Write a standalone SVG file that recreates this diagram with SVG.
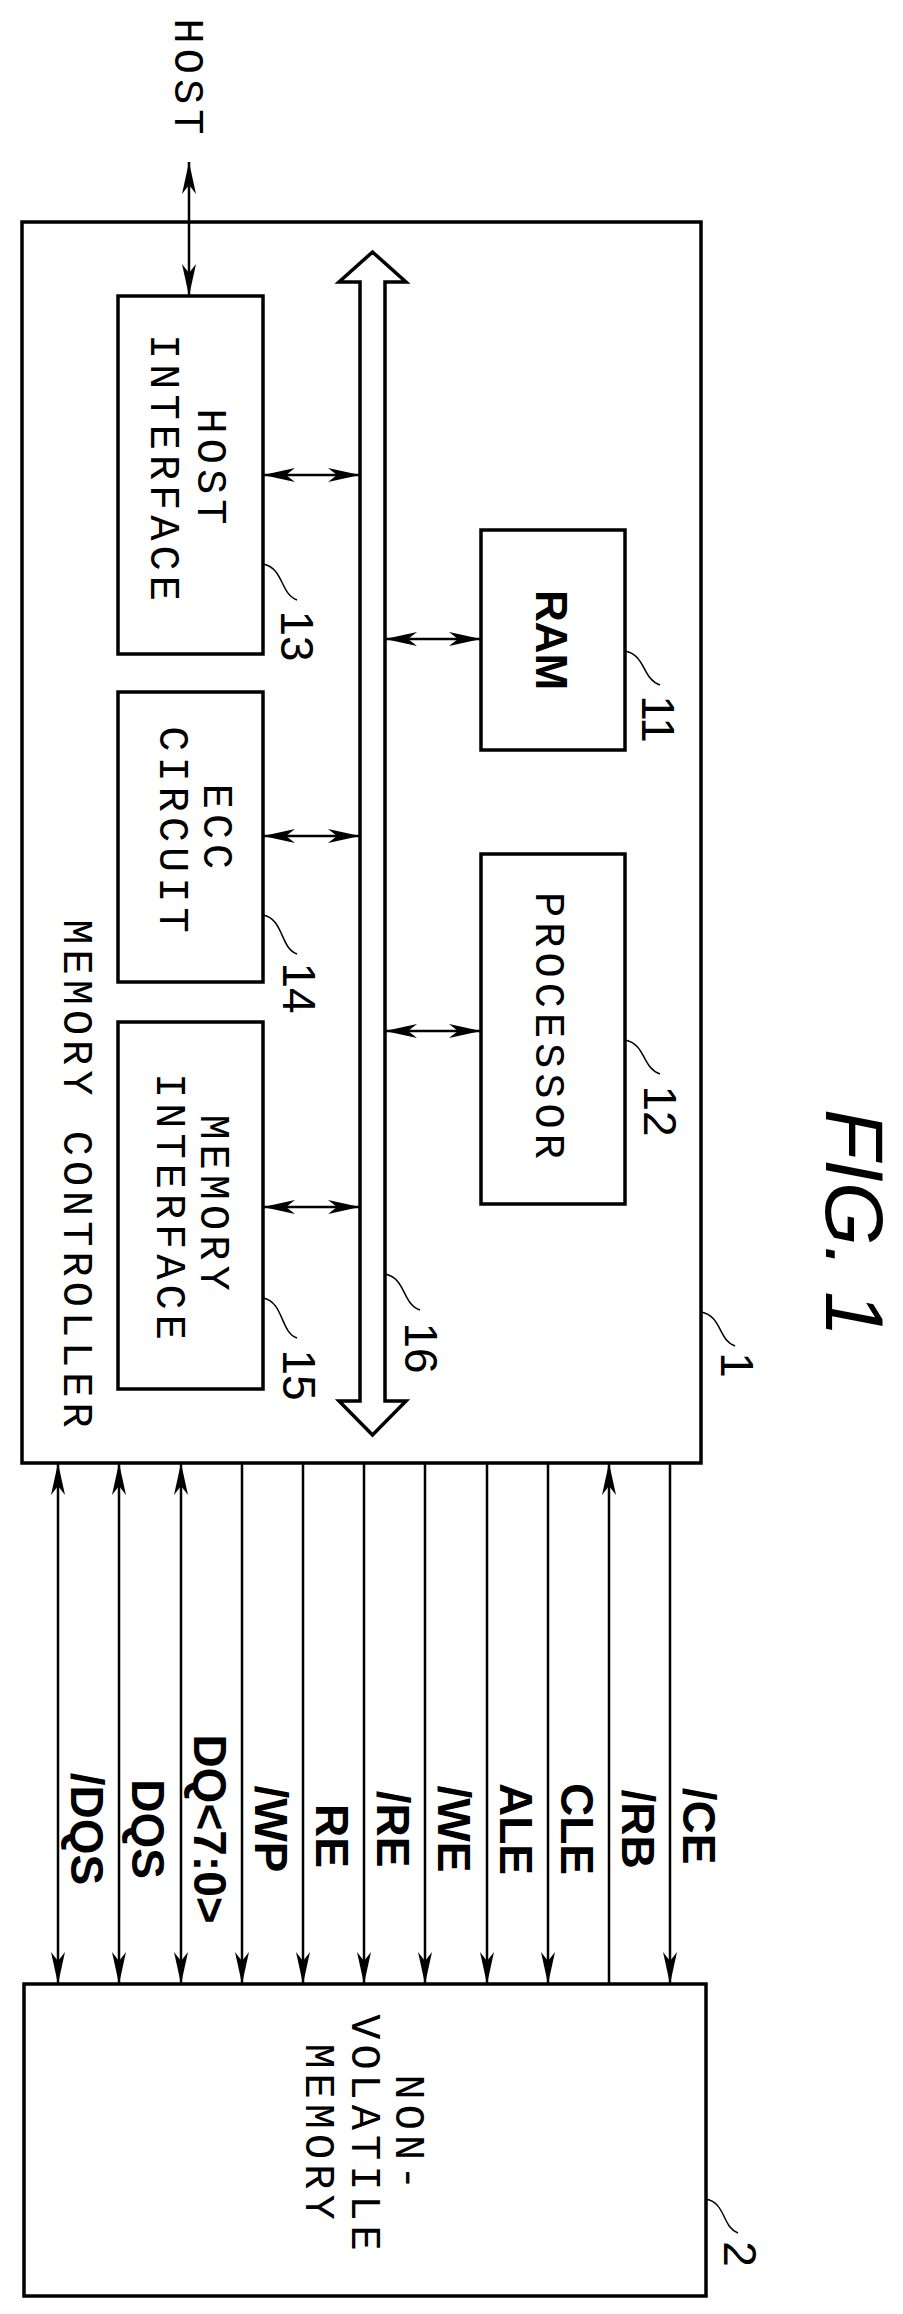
<svg xmlns="http://www.w3.org/2000/svg" width="903" height="2314" viewBox="0 0 903 2314">
<style>
.box{fill:none;stroke:#000;stroke-width:3.5}
.ln{fill:none;stroke:#000;stroke-width:2.5}
.ld{fill:none;stroke:#000;stroke-width:1.5}
.mono{font-family:"Liberation Mono","DejaVu Sans Mono",monospace;font-size:42px;letter-spacing:5px;text-anchor:middle}
.num{font-family:"Liberation Sans",Arial,sans-serif;font-size:46px;text-anchor:middle}
.sig{font-family:"Liberation Sans",Arial,sans-serif;font-weight:bold;font-size:46px;text-anchor:middle}
</style>
<defs>
<marker id="ah" markerUnits="userSpaceOnUse" markerWidth="34" markerHeight="16" refX="32" refY="7" orient="auto-start-reverse" viewBox="0 0 34 14">
<path d="M0,0 L32,7 L0,14 L9,7 Z" fill="#000"/>
</marker>
</defs>
<text class="mono" transform="translate(175,79) rotate(90)">HOST</text>
<g id="controller">
<rect class="box" x="22" y="222" width="679" height="1241"/>
<text class="mono" transform="translate(64,1176) rotate(90)">MEMORY CONTROLLER</text>
<path class="ld" d="M701,1312 C722,1316 718,1340 735,1346"/>
<text class="num" transform="translate(721,1365) rotate(90)">1</text>
</g>
<g id="hostif">
<rect class="box" x="118" y="296" width="145" height="358"/>
<text class="mono" transform="translate(198,469) rotate(90)">HOST</text>
<text class="mono" transform="translate(151,470) rotate(90)">INTERFACE</text>
<path class="ld" d="M263,564 C284,568 280,594 297,600"/>
<text class="num" transform="translate(281,636) rotate(90)">13</text>
</g>
<g id="ecc">
<rect class="box" x="118" y="692" width="145" height="290"/>
<text class="mono" transform="translate(204,829) rotate(90)">ECC</text>
<text class="mono" transform="translate(160,832) rotate(90)">CIRCUIT</text>
<path class="ld" d="M263,915 C284,919 280,948 297,954"/>
<text class="num" transform="translate(283,988) rotate(90)">14</text>
</g>
<g id="memif">
<rect class="box" x="118" y="1022" width="145" height="367"/>
<text class="mono" transform="translate(201,1205) rotate(90)">MEMORY</text>
<text class="mono" transform="translate(157,1209) rotate(90)">INTERFACE</text>
<path class="ld" d="M263,1298 C284,1302 280,1332 297,1338"/>
<text class="num" transform="translate(283,1375) rotate(90)">15</text>
</g>
<g id="ram">
<rect class="box" x="481" y="530" width="144" height="220"/>
<text transform="translate(536,640) rotate(90)" style="font-family:'Liberation Sans',Arial,sans-serif;font-weight:bold;font-size:44px;text-anchor:middle">RAM</text>
<path class="ld" d="M625,651 C646,655 642,679 660,685"/>
<text class="num" transform="translate(642,719) rotate(90)">11</text>
</g>
<g id="processor">
<rect class="box" x="481" y="854" width="144" height="350"/>
<text class="mono" transform="translate(536,1028) rotate(90)">PROCESSOR</text>
<path class="ld" d="M625,1040 C646,1044 642,1068 660,1074"/>
<text class="num" transform="translate(644,1111) rotate(90)">12</text>
</g>
<g id="bus">
<polygon points="372.5,252 406,282 385,282 385,1401 406,1401 372.5,1435 339,1401 360,1401 360,282 339,282" fill="#fff" stroke="#000" stroke-width="3.5" stroke-linejoin="miter"/>
<path class="ld" d="M385,1274 C406,1278 402,1304 420,1310"/>
<text class="num" transform="translate(405,1348) rotate(90)">16</text>
</g>
<g id="nvm">
<rect class="box" x="24" y="1984" width="682" height="312"/>
<text class="mono" transform="translate(396,2135) rotate(90)">NON-</text>
<text class="mono" transform="translate(352,2135) rotate(90)">VOLATILE</text>
<text class="mono" transform="translate(306,2134) rotate(90)">MEMORY</text>
<path class="ld" d="M706,2199 C726,2203 722,2227 738,2233"/>
<text class="num" transform="translate(724,2254) rotate(90)">2</text>
</g>
<text transform="translate(826,1223) rotate(90)" style="font-family:'Liberation Sans',Arial,sans-serif;font-style:italic;font-size:82px;text-anchor:middle">FIG. 1</text>
<g id="connectors">
<line class="ln" x1="189" y1="162" x2="189" y2="296" marker-start="url(#ah)" marker-end="url(#ah)"/>
<line class="ln" x1="263" y1="475" x2="360" y2="475" marker-start="url(#ah)" marker-end="url(#ah)"/>
<line class="ln" x1="263" y1="836" x2="360" y2="836" marker-start="url(#ah)" marker-end="url(#ah)"/>
<line class="ln" x1="263" y1="1207" x2="360" y2="1207" marker-start="url(#ah)" marker-end="url(#ah)"/>
<line class="ln" x1="385" y1="639" x2="481" y2="639" marker-start="url(#ah)" marker-end="url(#ah)"/>
<line class="ln" x1="385" y1="1031" x2="481" y2="1031" marker-start="url(#ah)" marker-end="url(#ah)"/>
<line class="ln" x1="58" y1="1463" x2="58" y2="1984" marker-start="url(#ah)" marker-end="url(#ah)"/>
<line class="ln" x1="119" y1="1463" x2="119" y2="1984" marker-start="url(#ah)" marker-end="url(#ah)"/>
<line class="ln" x1="181" y1="1463" x2="181" y2="1984" marker-start="url(#ah)" marker-end="url(#ah)"/>
<line class="ln" x1="242" y1="1463" x2="242" y2="1984" marker-end="url(#ah)"/>
<line class="ln" x1="303" y1="1463" x2="303" y2="1984" marker-end="url(#ah)"/>
<line class="ln" x1="364" y1="1463" x2="364" y2="1984" marker-end="url(#ah)"/>
<line class="ln" x1="425" y1="1463" x2="425" y2="1984" marker-end="url(#ah)"/>
<line class="ln" x1="487" y1="1463" x2="487" y2="1984" marker-end="url(#ah)"/>
<line class="ln" x1="548" y1="1463" x2="548" y2="1984" marker-end="url(#ah)"/>
<line class="ln" x1="609" y1="1984" x2="609" y2="1463" marker-end="url(#ah)"/>
<line class="ln" x1="670" y1="1463" x2="670" y2="1984" marker-end="url(#ah)"/>
<g class="sig">
<text transform="translate(71,1829) rotate(90)">/DQS</text>
<text transform="translate(132,1829) rotate(90)">DQS</text>
<text transform="translate(194,1829) rotate(90)">DQ&lt;7:0&gt;</text>
<text transform="translate(255,1829) rotate(90)">/WP</text>
<text transform="translate(316,1836) rotate(90)">RE</text>
<text transform="translate(377,1829) rotate(90)">/RE</text>
<text transform="translate(438,1829) rotate(90)">/WE</text>
<text transform="translate(500,1829) rotate(90)">ALE</text>
<text transform="translate(561,1829) rotate(90)">CLE</text>
<text transform="translate(622,1829) rotate(90)">/RB</text>
<text transform="translate(683,1826) rotate(90)">/CE</text>
</g>
</g>
</svg>
